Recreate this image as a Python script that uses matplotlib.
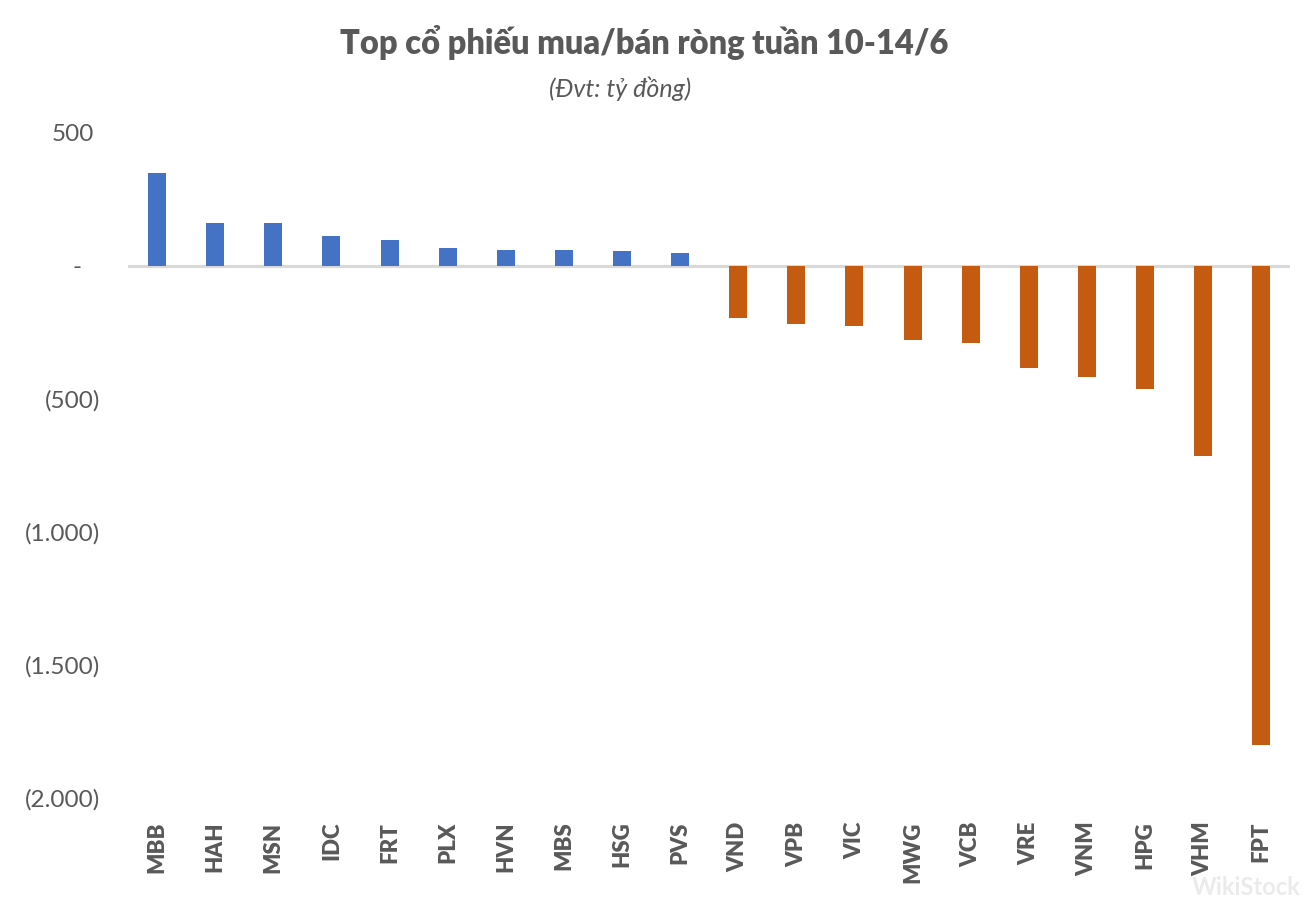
import matplotlib
matplotlib.use("Agg")
import matplotlib.pyplot as plt
from matplotlib.transforms import ScaledTranslation

plt.rcParams['font.family'] = ['Lato', 'DejaVu Sans']

tickers = ["MBB", "HAH", "MSN", "IDC", "FRT", "PLX", "HVN", "MBS", "HSG", "PVS",
           "VND", "VPB", "VIC", "MWG", "VCB", "VRE", "VNM", "HPG", "VHM", "FPT"]
values = [348, 163, 160, 111, 99, 66, 58, 58, 55, 47,
          -197, -220, -224, -280, -291, -383, -419, -461, -716, -1800]
ytick_values = [500, 0, -500, -1000, -1500, -2000]
ytick_labels = ["500", "-", "(500)", "(1.000)", "(1.500)", "(2.000)"]
title = "Top cổ phiếu mua/bán ròng tuần 10-14/6"
subtitle = "(Đvt: tỷ đồng)"

BLUE = "#4472C4"
ORANGE = "#C55A11"
GREY = "#595959"

fig = plt.figure(figsize=(13.14, 9.10), dpi=100)
ax = fig.add_axes([0.0974, 0.123, 0.8846, 0.731])

colors = [BLUE if v >= 0 else ORANGE for v in values]
x = list(range(len(tickers)))
ax.bar(x, values, width=0.31, color=colors, zorder=2)
ax.axhline(0, color="#D9D9D9", lw=2.2, zorder=1)

ax.set_xlim(-0.5, len(tickers) - 0.5)
ax.set_ylim(-2000, 500)
ax.set_yticks(ytick_values)
ax.set_yticklabels(ytick_labels, fontsize=17.5, color=GREY)
ax.set_xticks(x)
ax.set_xticklabels(tickers, rotation=90, fontsize=16, fontweight='heavy',
                   color=GREY, va='top')
ax.tick_params(axis='both', length=0)
ax.tick_params(axis='y', pad=20)
ax.tick_params(axis='x', pad=17)
for s in ax.spines.values():
    s.set_visible(False)

# Excel-like accounting alignment: non-negative labels shifted left
for lbl, v in zip(ax.get_yticklabels(), ytick_values):
    if v > 0:
        lbl.set_transform(lbl.get_transform() + ScaledTranslation(-6 / 100, 0, fig.dpi_scale_trans))
    elif v == 0:
        lbl.set_transform(lbl.get_transform() + ScaledTranslation(-19 / 100, 0, fig.dpi_scale_trans))

fig.text(0.490, 0.953, title, ha='center', va='center', fontsize=23.5,
         fontweight='heavy', color=GREY)
fig.text(0.472, 0.903, subtitle, ha='center', va='center', fontsize=18,
         style='italic', color=GREY)

fig.text(0.948, 0.025, "WikiStock", ha='center', va='center', fontsize=17,
         fontweight='bold', color="#EBEBEB", zorder=0)

fig.savefig("out.png", dpi=100, facecolor="white")
